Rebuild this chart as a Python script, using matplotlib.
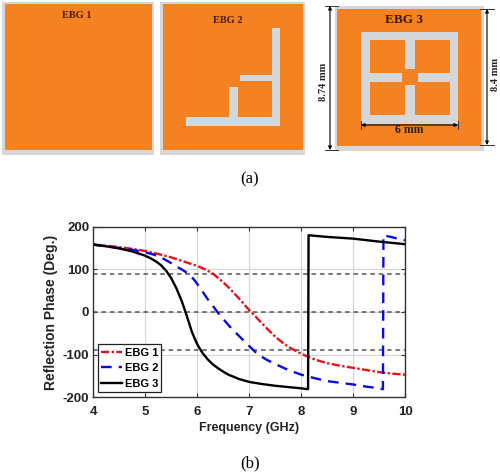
import matplotlib
matplotlib.use('Agg')
import matplotlib.pyplot as plt
from matplotlib.patches import Rectangle

plt.rcParams['axes.unicode_minus'] = False

W, H = 500, 474
ORANGE = '#f58220'
GREY = '#d4d8da'

freq_1 = [4, 4.25, 4.5, 4.75, 5, 5.25, 5.5, 5.75, 6, 6.15, 6.3, 6.45, 6.6, 6.8, 7, 7.1, 7.2, 7.35, 7.5, 7.65, 7.8, 8,
          8.15, 8.3, 8.5, 8.75, 9, 9.25, 9.5, 9.75, 10]
ebg_1 = [158, 155.5, 152, 148, 143, 136, 128, 118, 108, 100, 90, 75, 58, 32, 4, -8, -21, -40, -58, -73, -85, -98,
         -106, -113, -120, -126, -131, -136, -141, -144.5, -147]
freq_2 = [4, 4.25, 4.5, 4.75, 5, 5.15, 5.3, 5.45, 5.6, 5.75, 5.85, 5.95, 6.05, 6.2, 6.4, 6.6, 6.8, 7, 7.1, 7.2, 7.35,
          7.5, 7.75, 8, 8.25, 8.5, 8.75, 9, 9.25, 9.5, 9.57, 9.58, 10]
ebg_2 = [158, 154.5, 150, 146, 140, 135, 128, 118, 107, 96, 88, 74, 57, 30, -2, -31, -56, -80, -92, -102, -113,
         -122, -136, -147, -155, -162, -166, -170, -175, -179, -181, 180, 168]
freq_3 = [4, 4.25, 4.5, 4.75, 5, 5.1, 5.2, 5.3, 5.4, 5.5, 5.6, 5.7, 5.8, 5.9, 6, 6.1, 6.2, 6.3, 6.4, 6.5, 6.6, 6.8,
          7, 7.25, 7.5, 7.75, 8, 8.13, 8.14, 8.5, 9, 9.5, 10]
ebg_3 = [158, 154, 149, 142, 132, 126, 119, 110, 97, 79, 55, 26, -10, -48, -76, -96, -111, -123, -132, -140, -147, -157,
         -164, -169, -173, -176, -179, -181, 180, 176, 172, 165, 159]

ref_levels = [90, 0, -90]
xticks = [4, 5, 6, 7, 8, 9, 10]
yticks = [-200, -100, 0, 100, 200]

# pixel boxes: x0, y0, x1, y1
panels = [((2, 2, 154, 155), (5, 4, 152, 150)),
          ((160, 2, 305, 155), (163, 4, 303, 150)),
          ((335, 6, 484, 151), (337, 9, 481, 146))]
strips_2 = [(186, 117, 280, 126), (229, 87, 238, 118), (240, 75, 273, 81), (272, 28, 280, 126)]
strips_3 = [(361, 32, 458, 40), (361, 115, 458, 124), (361, 32, 370, 124), (450, 32, 458, 124),
            (405, 40, 415, 69), (405, 85, 415, 115), (370, 73, 402, 82), (418, 73, 450, 82)]

fig = plt.figure(figsize=(W / 100, H / 100), dpi=100)

bg = fig.add_axes([0, 0, 1, 1])
bg.set_xlim(0, W)
bg.set_ylim(H, 0)
bg.axis('off')


def rect(box, color):
    bg.add_patch(Rectangle((box[0], box[1]), box[2] - box[0], box[3] - box[1], fc=color, ec='none'))


for outer, inner in panels:
    rect(outer, GREY)
    rect(inner, ORANGE)
for box in strips_2 + strips_3:
    rect(box, GREY)

serif = 'Liberation Serif'
bg.text(77, 15, 'EBG 1', family=serif, weight='bold', size=7.5, color='#4a1a00', ha='center', va='center')
bg.text(228, 20, 'EBG 2', family=serif, weight='bold', size=7.5, color='#4a1a00', ha='center', va='center')
bg.text(404, 20, 'EBG 3', family=serif, weight='bold', size=9.5, color='#3a1500', ha='center', va='center')
bg.text(323, 82, '8.74 mm', family=serif, weight='bold', size=7.5, rotation=90, color='#222222', ha='center', va='center')
bg.text(495, 74, '8.4 mm', family=serif, weight='bold', size=7.5, rotation=90, color='#222222', ha='center', va='center')
bg.text(409, 130, '6 mm', family=serif, weight='bold', size=8.5, color='#222222', ha='center', va='center')
bg.text(250, 179, '(a)', family=serif, size=12, ha='center', va='center')
bg.text(250, 463, '(b)', family=serif, size=12, ha='center', va='center')

arrow = dict(arrowstyle='<|-|>', color='black', lw=0.8, mutation_scale=5, shrinkA=0, shrinkB=0)
bg.annotate('', (330, 6), (330, 150), arrowprops=arrow)
bg.annotate('', (487, 9), (487, 145), arrowprops=arrow)
bg.annotate('', (361, 125), (458, 125), arrowprops=arrow)
bg.plot([325, 338], [6, 6], color='#333333', lw=0.7)
bg.plot([325, 338], [150, 150], color='#333333', lw=0.7)
bg.plot([480, 494], [9, 9], color='#333333', lw=0.7)
bg.plot([480, 494], [145, 145], color='#333333', lw=0.7)
bg.plot([361, 361], [121, 129], color='#333333', lw=0.7)
bg.plot([458, 458], [121, 129], color='#333333', lw=0.7)

ax = fig.add_axes([93.3 / W, 1 - 397.3 / H, 312 / W, 170.6 / H])
ax.plot(freq_1, ebg_1, color='#e8101c', ls=(0, (3.5, 1, 1, 1)), lw=1.7, label='EBG 1')
ax.plot(freq_2, ebg_2, color='#0a0ae0', ls=(0, (4.5, 3)), lw=1.7, label='EBG 2')
ax.plot(freq_3, ebg_3, color='black', lw=1.7, label='EBG 3')
for level in ref_levels:
    ax.axhline(level, color='#555555', ls=(0, (3, 2.5)), lw=1.1, zorder=1.5)
ax.set_xlim(4, 10)
ax.set_ylim(-200, 200)
ax.set_xticks(xticks)
ax.set_yticks(yticks)
ax.grid(True, color='#d5d5d5', lw=0.8)
ax.set_axisbelow(True)
ax.tick_params(direction='in', top=True, right=True, length=3, width=0.8, color='#333333', pad=6)
ax.tick_params(axis='y', pad=3)
for lab in ax.get_xticklabels() + ax.get_yticklabels():
    lab.set_family('Liberation Sans')
    lab.set_weight('bold')
    lab.set_size(9.5)
    lab.set_color('#222222')
for s in ax.spines.values():
    s.set_linewidth(1.0)
    s.set_color('#333333')
ax.set_xlabel('Frequency (GHz)', family='Liberation Sans', weight='bold', size=9, color='#222222', labelpad=3)
ax.set_ylabel('Reflection Phase (Deg.)', family='Liberation Sans', weight='bold', size=10, color='#222222', labelpad=3)

leg = ax.legend(loc='lower left', bbox_to_anchor=(0.015, 0.03), borderaxespad=0, fancybox=False, framealpha=1,
                edgecolor='#222222', prop={'family': 'Liberation Sans', 'weight': 'bold', 'size': 8},
                labelspacing=0.5, borderpad=0.3, handlelength=1.9, handletextpad=0.2)
leg.get_frame().set_linewidth(0.9)

plt.savefig('out.png', dpi=100)
